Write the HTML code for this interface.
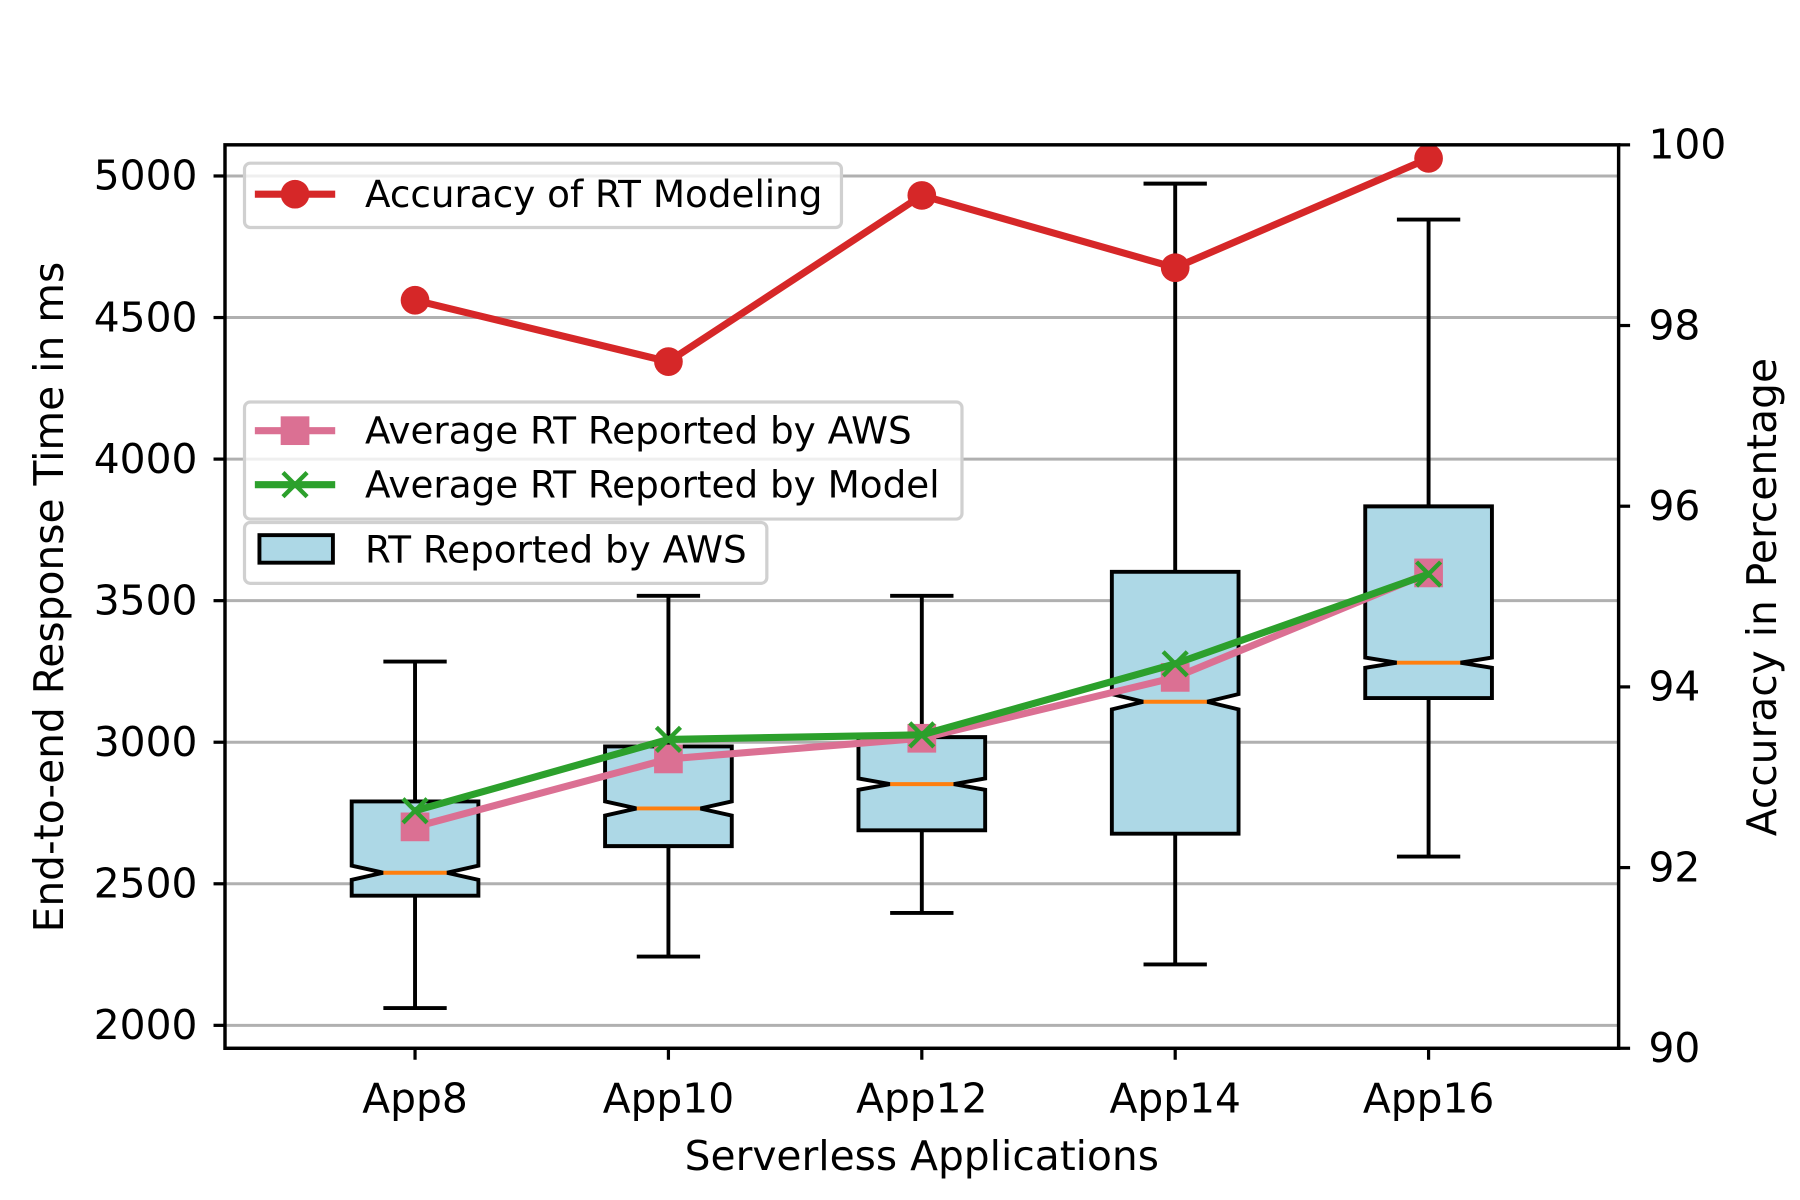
<!DOCTYPE html>
<html><head><meta charset="utf-8"><style>html,body{margin:0;padding:0;background:#fff}svg{display:block}text{font-family:"DejaVu Sans","Liberation Sans",sans-serif;fill:#000}</style></head>
<body>
<svg id="chart" width="1800" height="1200" viewBox="0 0 1568 1045" xmlns="http://www.w3.org/2000/svg">
<g id="grid"></g>
<g id="boxes"></g>
<g id="lines"></g>
<g id="axes"></g>
<g id="legends"></g>
</svg>
<script>
const categories = ["App8","App10","App12","App14","App16"];
const accuracy = [98.28, 97.6, 99.44, 98.64, 99.85];
const avgAws = [2701, 2941, 3014, 3229, 3598];
const avgModel = [2758, 3010, 3026, 3277, 3594];
const whiskerLow = [2061, 2243, 2397, 2215, 2596];
const q1 = [2458, 2633, 2689, 2677, 3156];
const median = [2539, 2766, 2852, 3143, 3281];
const q3 = [2791, 2985, 3018, 3602, 3833];
const whiskerHigh = [3285, 3517, 3517, 4973, 4846];
const notchHalf = [25, 25, 20, 27, 18];
const leftTicks = [2000, 2500, 3000, 3500, 4000, 4500, 5000];
const rightTicks = [90, 92, 94, 96, 98, 100];

const NS = "http://www.w3.org/2000/svg";
const L = 196, R = 1410, T = 126, B = 913;
const yMin = 1919, yMax = 5110;
function xS(i){ return L + (i + 1 - 0.25) / 5.5 * (R - L); }
function yL(v){ return B - (v - yMin) / (yMax - yMin) * (B - T); }
function yR(v){ return B - (v - 90) / 10 * (B - T); }
function mk(parent, tag, attrs, text){
  const e = document.createElementNS(NS, tag);
  for (const k in attrs) e.setAttribute(k, attrs[k]);
  if (text !== undefined) e.textContent = text;
  document.getElementById(parent).appendChild(e);
  return e;
}
const unit = (R - L) / 5.5;
const FS = 35.5, LFS = 32.5, LW = 6.2, BW = 3.4;

leftTicks.forEach(v => {
  const g = mk("grid","line",{x1:L,x2:R,y1:yL(v),y2:yL(v),stroke:"#b0b0b0","stroke-width":2.6});
  
  
});

categories.forEach((c, i) => {
  const x = xS(i), hw = unit * 0.25, nw = hw * 0.5, cw = unit * 0.125;
  const w1 = mk("boxes","line",{x1:x,x2:x,y1:yL(whiskerLow[i]),y2:yL(q1[i]),stroke:"#000","stroke-width":BW});
  
  
  const w2 = mk("boxes","line",{x1:x,x2:x,y1:yL(q3[i]),y2:yL(whiskerHigh[i]),stroke:"#000","stroke-width":BW});
  
  
  const c1 = mk("boxes","line",{x1:x-cw,x2:x+cw,y1:yL(whiskerLow[i]),y2:yL(whiskerLow[i]),stroke:"#000","stroke-width":BW});
  
  
  const c2 = mk("boxes","line",{x1:x-cw,x2:x+cw,y1:yL(whiskerHigh[i]),y2:yL(whiskerHigh[i]),stroke:"#000","stroke-width":BW});
  
  
  const nlo = yL(median[i] - notchHalf[i]), nhi = yL(median[i] + notchHalf[i]), ym = yL(median[i]);
  const pts = [[x-hw,yL(q1[i])],[x+hw,yL(q1[i])],[x+hw,nlo],[x+nw,ym],[x+hw,nhi],[x+hw,yL(q3[i])],[x-hw,yL(q3[i])],[x-hw,nhi],[x-nw,ym],[x-hw,nlo]];
  const b = mk("boxes","polygon",{points:pts.map(p=>p.join(",")).join(" "),fill:"#add8e6",stroke:"#000","stroke-width":BW});
  
  
  const m = mk("boxes","line",{x1:x-nw,x2:x+nw,y1:ym,y2:ym,stroke:"#ff7f0e","stroke-width":BW});
  
  
});

function series(vals, scale, color, name){
  const p = mk("lines","polyline",{points:vals.map((v,i)=>xS(i)+","+scale(v)).join(" "),fill:"none",stroke:color,"stroke-width":LW,"stroke-linejoin":"round"});
  
  
}
series(avgAws, yL, "#db7093", "avg-aws");
avgAws.forEach((v,i)=>{
  const s = mk("lines","rect",{x:xS(i)-12.5,y:yL(v)-12.5,width:25,height:25,fill:"#db7093"});
  
  
});
series(avgModel, yL, "#2ca02c", "avg-model");
avgModel.forEach((v,i)=>{
  const x = xS(i), y = yL(v), d = 10.5;
  const s = mk("lines","path",{d:`M${x-d},${y-d}L${x+d},${y+d}M${x-d},${y+d}L${x+d},${y-d}`,stroke:"#2ca02c","stroke-width":3.8,fill:"none"});
  
  
});
series(accuracy, yR, "#d62728", "accuracy");
accuracy.forEach((v,i)=>{
  const s = mk("lines","circle",{cx:xS(i),cy:yR(v),r:12.5,fill:"#d62728"});
  
  
});

const fr = mk("axes","rect",{x:L,y:T,width:R-L,height:B-T,fill:"none",stroke:"#000","stroke-width":3});


leftTicks.forEach(v=>{
  mk("axes","line",{x1:L-10,x2:L,y1:yL(v),y2:yL(v),stroke:"#000","stroke-width":2.8});
  const t = mk("axes","text",{x:L-24,y:yL(v)+12,"text-anchor":"end","font-size":FS},String(v));
  
  
});
rightTicks.forEach(v=>{
  mk("axes","line",{x1:R,x2:R+10,y1:yR(v),y2:yR(v),stroke:"#000","stroke-width":2.8});
  const t = mk("axes","text",{x:R+26,y:yR(v)+12,"text-anchor":"start","font-size":FS},String(v));
  
  
});
categories.forEach((c,i)=>{
  mk("axes","line",{x1:xS(i),x2:xS(i),y1:B,y2:B+10,stroke:"#000","stroke-width":2.8});
  const t = mk("axes","text",{x:xS(i),y:969,"text-anchor":"middle","font-size":FS},c);
  
  
});
const xt = mk("axes","text",{x:803,y:1019,"text-anchor":"middle","font-size":FS},"Serverless Applications");


const yt = mk("axes","text",{x:0,y:0,"text-anchor":"middle","font-size":FS,transform:"translate(55,520) rotate(-90)"},"End-to-end Response Time in ms");


const yt2 = mk("axes","text",{x:0,y:0,"text-anchor":"middle","font-size":FS,transform:"translate(1547,520) rotate(-90)"},"Accuracy in Percentage");



function frame(x,y,w,h,name){
  const r = mk("legends","rect",{x:x,y:y,width:w,height:h,rx:5,fill:"rgba(255,255,255,0.8)",stroke:"#d0d0d0","stroke-width":2.8});
  
  
}
frame(213,142,520,56,"legend-accuracy");
mk("legends","line",{x1:222,x2:292,y1:169,y2:169,stroke:"#d62728","stroke-width":LW});
mk("legends","circle",{cx:257,cy:169,r:12.5,fill:"#d62728"});
const l1 = mk("legends","text",{x:318,y:180,"font-size":LFS},"Accuracy of RT Modeling");



frame(213,350,625,102,"legend-averages");
mk("legends","line",{x1:222,x2:292,y1:375,y2:375,stroke:"#db7093","stroke-width":LW});
mk("legends","rect",{x:244.5,y:362.5,width:25,height:25,fill:"#db7093"});
const l2 = mk("legends","text",{x:318,y:386,"font-size":LFS},"Average RT Reported by AWS");


mk("legends","line",{x1:222,x2:292,y1:422,y2:422,stroke:"#2ca02c","stroke-width":LW});
mk("legends","path",{d:"M246.5,411.5L267.5,432.5M246.5,432.5L267.5,411.5",stroke:"#2ca02c","stroke-width":3.8});
const l3 = mk("legends","text",{x:318,y:433,"font-size":LFS},"Average RT Reported by Model");



frame(213,455,455,53,"legend-box");
mk("legends","rect",{x:226,y:466,width:64,height:24,fill:"#add8e6",stroke:"#000","stroke-width":BW});
const l4 = mk("legends","text",{x:318,y:490,"font-size":LFS},"RT Reported by AWS");


</script>
</body></html>
